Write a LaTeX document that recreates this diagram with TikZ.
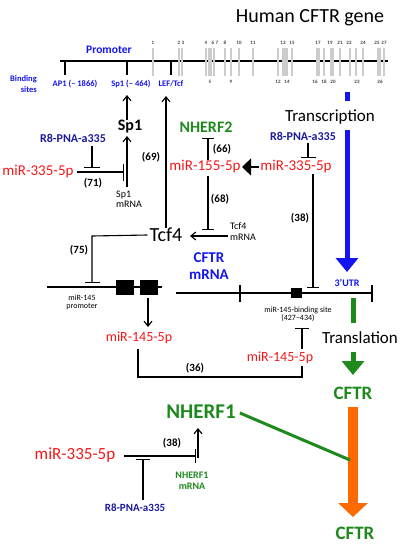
\documentclass[tikz,border=0pt]{standalone}
\usepackage{fontspec}
\setmainfont{Carlito}
\usetikzlibrary{arrows.meta}
\definecolor{mred}{HTML}{F21818}
\definecolor{mnavy}{HTML}{1A1A9A}
\definecolor{mblue}{HTML}{1414F0}
\definecolor{mgreen}{HTML}{1E8A1E}
\definecolor{morange}{HTML}{FF6A00}
\newcommand{\fs}[1]{\fontsize{#1}{#1}\selectfont}
\begin{document}
\begin{tikzpicture}[x=1pt,y=-1pt,
  lbl/.style={inner sep=0pt,font=\fs{#1}},
  redt/.style={lbl=#1,text=mred},
  navyt/.style={lbl=#1,text=mnavy,font=\fs{#1}\bfseries},
  greent/.style={lbl=#1,text=mgreen,font=\fs{#1}\bfseries},
  bluet/.style={lbl=#1,text=mblue,font=\fs{#1}\bfseries},
  numt/.style={lbl=11,font=\fs{11}\bfseries},
  exn/.style={lbl=5,text=black!75,font=\fs{5}\bfseries},
  conn/.style={line width=1.1pt,black},
  act/.style={conn,-{Straight Barb[length=5pt,width=8pt]}},
  inh/.style={conn,-{Bar[width=#1]}},
  inh/.default=14pt,
  thick line/.style={line width=1.6pt,black}]
\useasboundingbox (0,0) rectangle (405,550);

% title
\node[lbl=20] (title) at (310,18) {Human CFTR gene};

% gene
\draw[thick line] (60,61) -- (388,61);
\foreach \x in {153,179,182,206,209,211,214,225,231,239,253,278,283,285,287,292,317,319,324,331,333,340,350,356,363,378,380,384}
  \fill[gray!40] (\x-1.3,48) rectangle (\x+1.3,76);
\foreach \t/\x in {1/153,2/179,3/183,4/206,6/213,7/217,8/225,10/239,11/253,13/283,15/292,17/318,19/330,21/340,22/349,24/363,25/377,27/384}
  \node[exn] (ea\t) at (\x,43) {\t};
\foreach \t/\x in {5/210,9/231,12/278,14/287,16/315,18/324,20/333,23/357,26/380}
  \node[exn] (eb\t) at (\x,82) {\t};
\draw[thick line] (65,61) -- (65,75);
\draw[thick line] (127,61) -- (127,75);
\draw[thick line] (171,61) -- (171,75);

\node[bluet=11.5] (promoter) at (109,50) {Promoter};
\node[bluet=8.5,align=right,anchor=east,font=\fs{8.5}\bfseries\linespread{1.2}\selectfont] (bsites) at (37,84) {Binding\\sites};
\node[bluet=8.5] (ap1) at (75,84) {AP1 (– 1866)};
\node[bluet=8.5] (sp1site) at (131,84) {Sp1 (– 464)};
\node[bluet=8.5] (lefsite) at (171,84) {LEF/Tcf};

% transcription
\coordinate (tr0) at (347,92);
\coordinate (tr1) at (347,101);
\coordinate (tr2) at (347,130);
\coordinate (tr3) at (347,272);
\draw[mblue,line width=5pt] (tr0) -- (tr1);
\draw[mblue,line width=5pt,-{Triangle[length=14pt,width=22pt]}] (tr2) -- (tr3);
\node[lbl=17] (transcription) at (330,117) {Transcription};
\node[bluet=10] (utr) at (347,283) {3’UTR};

% translation
\coordinate (tl0) at (353,298);
\coordinate (tl1) at (353,323);
\coordinate (tl2) at (353,352);
\coordinate (tl3) at (353,375);
\draw[mgreen,line width=5pt] (tl0) -- (tl1);
\draw[mgreen,line width=5pt,-{Triangle[length=14pt,width=22pt]}] (tl2) -- (tl3);
\node[lbl=17] (translation) at (360,338) {Translation};
\node[greent=19] (cftr1) at (353,393) {CFTR};
\node[greent=19] (cftr2) at (355,533) {CFTR};
\coordinate (or0) at (353,407);
\coordinate (or1) at (353,517);
\draw[morange,line width=10pt,-{Triangle[length=14pt,width=29pt]}] (or0) -- (or1);
\node[greent=21] (nherf1) at (201,412) {NHERF1};
\coordinate (orj) at (350,460);
\draw[mgreen,line width=3pt] (nherf1.east) ++(4,1) -- (orj);

% top left
\node[lbl=16,font=\fs{16}\bfseries] (sp1) at (130,127) {Sp1};
\coordinate (sp1a) at (127,120);
\coordinate (sp1b) at (127,95);
\draw[act] (sp1a) -- (sp1b);
\node[greent=16] (nherf2) at (206,127) {NHERF2};
\node[navyt=12] (r8a) at (73,138) {R8-PNA-a335};
\node[redt=15] (mir335a) at (38,172) {miR-335-5p};
\node[numt] (n71) at (93,183) {(71)};
\node[lbl=10,align=left,anchor=north west,font=\fs{10}\linespread{1}\selectfont] (sp1m) at (116,191) {Sp1\\mRNA};
\coordinate (sp1ma) at (127,187);
\coordinate (sp1mb) at (127,136);
\draw[act] (sp1ma) -- (sp1mb);
\coordinate (ia1) at (124,172);
\draw[inh=17pt] (mir335a.east) ++(3,0) -- (ia1);
\coordinate (ib1) at (92,146);
\coordinate (ib2) at (92,168);
\draw[inh=16pt] (ib1) -- (ib2);
\node[numt] (n69) at (151,157) {(69)};
\node[lbl=20] (tcf4) at (166,235) {Tcf4};
\coordinate (lefa) at (166,96);
\draw[act] (tcf4.north) -- (lefa);

% middle
\node[redt=15] (mir155) at (205,167) {miR-155-5p};
\node[numt] (n66) at (222,149) {(66)};
\node[numt] (n68) at (220,199) {(68)};
\coordinate (i155a) at (208,160);
\coordinate (i155b) at (208,138);
\draw[inh=12pt] (i155a) -- (i155b);
\coordinate (i155c) at (208,176);
\coordinate (i155d) at (208,230);
\draw[inh=12pt] (i155c) -- (i155d);
\node[lbl=10,align=left,anchor=north west,font=\fs{10}\linespread{1.1}\selectfont] (tcf4m) at (230,222) {Tcf4\\mRNA};
\coordinate (tmA) at (228,236);
\coordinate (tmB) at (190,236);
\draw[act] (tmA) -- (tmB);
\node[navyt=12] (r8b) at (303,136) {R8-PNA-a335};
\node[redt=15] (mir335b) at (296,167) {miR-335-5p};
\coordinate (m3a) at (259,167);
\coordinate (m3b) at (242,167);
\draw[conn,-{Triangle[length=9pt,width=17pt]}] (m3a) -- (m3b);
\coordinate (r8ba) at (308,143);
\coordinate (r8bb) at (308,158);
\draw[inh=15pt] (r8ba) -- (r8bb);
\coordinate (m3c) at (313,174);
\coordinate (m3d) at (313,288);
\draw[inh=12pt] (m3c) -- (m3d);
\node[numt] (n38a) at (300,218) {(38)};

% miR-145 promoter
\node[numt] (n75) at (79,250) {(75)};
\coordinate (t75a) at (92,236);
\coordinate (t75b) at (92,283);
\draw[inh=15pt] (tcf4.west) ++(-2,0) -- (t75a) -- (t75b);
\coordinate (pl0) at (47,287);
\coordinate (pl1) at (162,287);
\draw[thick line] (pl0) -- (pl1);
\fill (116,280) rectangle (134,295);
\fill (140,280) rectangle (158,295);
\node[lbl=8,align=center,font=\fs{8}\linespread{1}\selectfont] (mpro) at (82,302) {miR-145\\promoter};
\coordinate (m145a) at (148,298);
\coordinate (m145b) at (148,327);
\draw[act] (m145a) -- (m145b);
\node[redt=14] (mir145a) at (139,338) {miR-145-5p};
\node[redt=14] (mir145b) at (280,358) {miR-145-5p};
\coordinate (br1) at (138,377);
\coordinate (br2) at (302,377);
\coordinate (br3) at (302,366);
\draw[conn] (mir145a.south -| br1) ++(0,5) -- (br1) -- (br2) -- (br3);
\coordinate (m145c) at (302,349);
\coordinate (m145d) at (302,328);
\draw[inh=14pt] (m145c) -- (m145d);
\node[numt] (n36) at (195,368) {(36)};

% CFTR mRNA
\node[bluet=15,align=center,font=\fs{15}\bfseries\linespread{1.1}\selectfont] (cftrm) at (209,266) {CFTR\\mRNA};
\coordinate (ml0) at (176,293);
\coordinate (ml1) at (372,293);
\draw[thick line] (ml0) -- (ml1);
\draw[thick line] (240,285) -- (240,302);
\draw[thick line] (372,285) -- (372,302);
\fill (291,288) rectangle (302,298);
\node[lbl=8,align=center,font=\fs{8}\linespread{1}\selectfont] (bsite) at (298,314) {miR-145-binding site\\(427–434)};

% bottom
\node[redt=17] (mir335c) at (75,455) {miR-335-5p};
\node[numt] (n38b) at (172,443) {(38)};
\node[greent=10,align=center,font=\fs{10}\bfseries\linespread{1.1}\selectfont] (nh1m) at (192,481) {NHERF1\\mRNA};
\node[navyt=11] (r8c) at (135,508) {R8-PNA-a335};
\coordinate (bm1) at (124,456);
\coordinate (bm2) at (196,456);
\draw[inh=14pt] (bm1) -- (bm2);
\coordinate (br8a) at (143,500);
\coordinate (br8b) at (143,459);
\draw[inh=14pt] (br8a) -- (br8b);
\coordinate (nm1) at (198,458);
\coordinate (nm2) at (198,428);
\draw[act] (nm1) -- (nm2);
\end{tikzpicture}
\end{document}
